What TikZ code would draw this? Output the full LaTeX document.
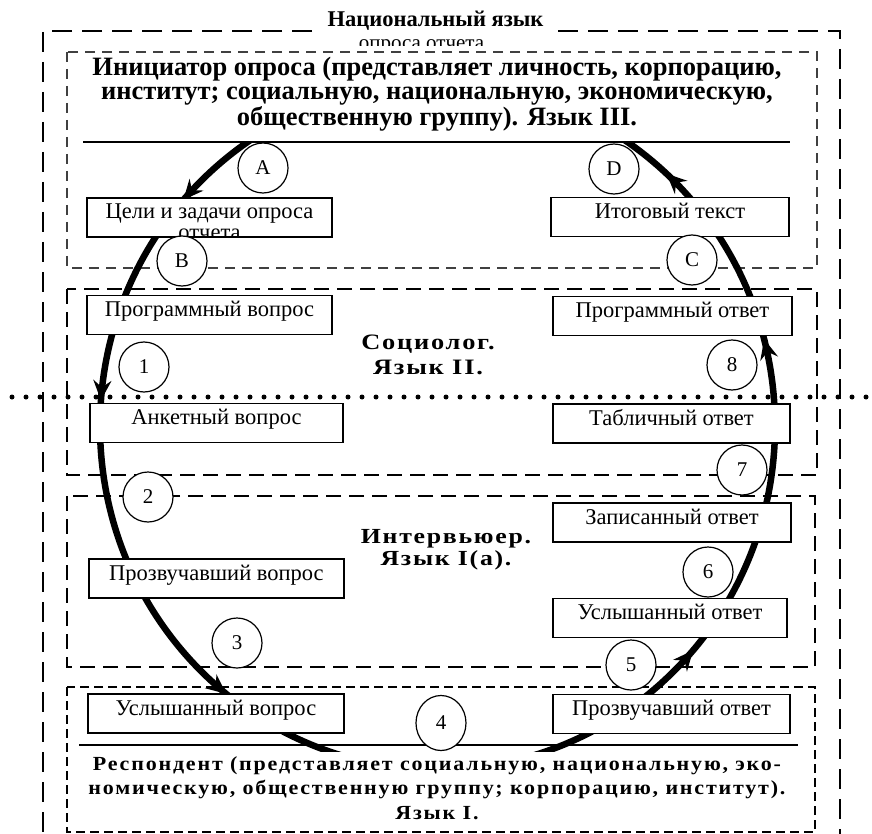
\documentclass[tikz,border=0pt]{standalone}
\usepackage{fontspec}
\setmainfont{Liberation Serif}
\newfontfamily\spacedbf[LetterSpace=8, FakeStretch=1.2]{Liberation Serif}
\newfontfamily\widebf[LetterSpace=9, FakeStretch=1.1]{Liberation Serif}
\usetikzlibrary{arrows.meta,decorations.markings,shapes.geometric}

\tikzset{
  frame/.style={line width=2.8pt, dash pattern=on 20pt off 10pt},
  topzone/.style={line width=1.8pt, draw=black!75, dash pattern=on 10pt off 7pt},
  zone/.style={line width=2.3pt, dash pattern=on 15pt off 8pt},
  botzone/.style={line width=2.3pt, dash pattern=on 9pt off 5pt},
  sepline/.style={line width=2pt},
  stage/.style={draw, line width=1.6pt, fill=white, inner xsep=2pt, inner ysep=4pt,
    text height=17pt, text depth=14pt, font=\fontsize{22.5}{24}\selectfont},
  tag/.style={draw, circle, fill=white, line width=1.2pt, minimum size=50pt,
    inner sep=0pt, font=\fontsize{21}{22}\selectfont},
  flow/.style={line width=6.5pt},
  flowtip/.tip={Stealth[length=20pt, width=18pt, inset=7pt]},
  heading/.style={align=center, inner sep=0pt, font=\bfseries\fontsize{26.5}{24.5}\selectfont},
  rolename/.style={align=center, inner sep=0pt, font=\spacedbf\bfseries\fontsize{22}{25}\selectfont}
}

\begin{document}
\begin{tikzpicture}[x=1pt, y=-1pt]
\useasboundingbox (0,0) rectangle (872,834);

% frames
\draw[frame] (312,31) -- (43,31) -- (43,850);
\draw[frame] (558,31) -- (840,31) -- (840,850);
\draw[topzone] (67,52) rectangle (817,268);
\draw[zone] (67,289) rectangle (817,475);
\draw[zone] (67,496) rectangle (815,667);
\draw[botzone] (67,687) rectangle (815,832);
\draw[sepline] (83,142) -- (790,142);
\draw[sepline] (79,745) -- (798,745);
\draw[line width=5pt, line cap=round, dash pattern=on 0pt off 14pt] (12,397) -- (872,397);

\node[font=\bfseries\fontsize{22.5}{24}\selectfont, anchor=base] (natlang) at (435.5,27) {Национальный язык};
\begin{scope}
\clip (300,30) rectangle (580,45.5);
\node[font=\fontsize{21}{22}\selectfont, anchor=base] (natlangrest) at (421.5,49.5) {опроса отчета};
\end{scope}

% the loop
\begin{scope}
\clip (0,143) rectangle (872,751);
\draw[flow, postaction={decorate}, decoration={markings,
    mark=at position 0.135 with {\arrow{flowtip}},
    mark=at position 0.238 with {\arrow{flowtip}},
    mark=at position 0.393 with {\arrow{flowtip}},
    mark=at position 0.636 with {\arrow{flowtip}},
    mark=at position 0.791 with {\arrow{flowtip}},
    mark=at position 0.882 with {\arrow{flowtip}}}]
  (437.5,426) ++(270:337.5 and 343.5) arc[start angle=270, end angle=-90, x radius=337.5, y radius=343.5];
\end{scope}

% stages
\node[stage, minimum width=245pt] (goals) at (209.5,217.5) {Цели и задачи опроса};
\begin{scope}
\clip (88,200) rectangle (331,236.5);
\node[font=\fontsize{22.5}{24}\selectfont, anchor=base] (goalsrest) at (209.5,240) {отчета};
\end{scope}
\node[stage, minimum width=238pt] (final) at (670,217) {Итоговый текст};
\node[stage, minimum width=245pt] (progq) at (209.5,315) {Программный вопрос};
\node[stage, minimum width=239pt] (proga) at (672.5,316) {Программный ответ};
\node[stage, minimum width=253pt] (formq) at (216.5,423) {Анкетный вопрос};
\node[stage, minimum width=237pt] (tablea) at (671.5,423.5) {Табличный ответ};
\node[stage, minimum width=255pt] (saidq) at (216.5,578.5) {Прозвучавший вопрос};
\node[stage, minimum width=238pt] (writa) at (672,522.5) {Записанный ответ};
\node[stage, minimum width=234pt] (hearda) at (670,618) {Услышанный ответ};
\node[stage, minimum width=256pt] (heardq) at (216,713.5) {Услышанный вопрос};
\node[stage, minimum width=237pt] (saida) at (671.5,714) {Прозвучавший ответ};

% step marks
\node[tag] (tA) at (263,168) {A};
\node[tag] (tB) at (182,261) {B};
\node[tag] (tC) at (692,260) {C};
\node[tag] (tD) at (614,169) {D};
\node[tag] (t1) at (144,367) {1};
\node[tag] (t2) at (148,497) {2};
\node[tag] (t3) at (237,643) {3};
\node[tag, ellipse, minimum width=50pt, minimum height=55pt] (t4) at (441,723) {4};
\node[tag] (t5) at (631,665) {5};
\node[tag] (t6) at (708,572) {6};
\node[tag] (t7) at (742,470) {7};
\node[tag] (t8) at (732,365) {8};

% roles
\node[heading] (initiator) at (437,94) {Инициатор опроса (представляет личность, корпорацию,\\институт; социальную, национальную, экономическую,\\общественную группу). Язык III.};
\node[rolename] (sociolog) at (428,354.5) {Социолог.\\Язык II.};
\node[rolename, font=\spacedbf\bfseries\fontsize{21.5}{22}\selectfont] (interviewer) at (446,550) {Интервьюер.\\Язык I(а).};
\node[align=center, inner sep=0pt, font=\widebf\bfseries\fontsize{20}{24.5}\selectfont] (respondent) at (437,788) {Респондент (представляет социальную, национальную, эко-\\номическую, общественную группу; корпорацию, институт).\\Язык I.};
\end{tikzpicture}
\end{document}
